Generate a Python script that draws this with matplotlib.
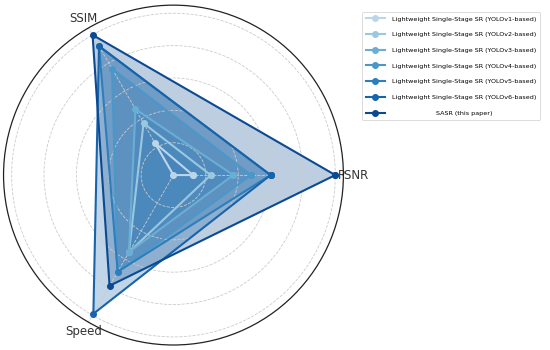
import numpy as np
import matplotlib
matplotlib.use('Agg')
import matplotlib.pyplot as plt

# Axes of the radar chart (normalised scores)
metrics = ['PSNR', 'SSIM', 'Speed']

methods = [
    'Lightweight Single-Stage SR (YOLOv1-based)',
    'Lightweight Single-Stage SR (YOLOv2-based)',
    'Lightweight Single-Stage SR (YOLOv3-based)',
    'Lightweight Single-Stage SR (YOLOv4-based)',
    'Lightweight Single-Stage SR (YOLOv5-based)',
    'Lightweight Single-Stage SR (YOLOv6-based)',
    'SASR (this paper)',
]

# values in order PSNR, SSIM, Speed
yolov1 = [0.12, 0.23, 0.00]
yolov2 = [0.23, 0.37, 0.55]
yolov3 = [0.37, 0.47, 0.55]
yolov4 = [0.48, 0.76, 0.69]
yolov5 = [0.60, 0.92, 0.69]
yolov6 = [0.60, 0.92, 0.99]
sasr = [1.00, 1.00, 0.79]
scores = [yolov1, yolov2, yolov3, yolov4, yolov5, yolov6, sasr]

colors = ['#bad6eb', '#9ac8e0', '#6aaed6', '#4a98c9', '#2e7ebc', '#1764ab', '#0b4a92']

angles = np.linspace(0, 2 * np.pi, len(metrics), endpoint=False)
angles_closed = np.append(angles, angles[0])

fig = plt.figure(figsize=(5.5, 3.5), dpi=100)
ax = fig.add_axes([0.0064, 0.0143, 0.618, 0.971], projection='polar')

# fills first, then outlines on top
for vals, c in zip(scores, colors):
    v = np.append(vals, vals[0])
    ax.fill(angles_closed, v, color=c, alpha=0.27, linewidth=0)

for vals, c, name in zip(scores, colors, methods):
    v = np.append(vals, vals[0])
    ax.plot(angles_closed, v, color=c, linewidth=1.5, marker='o',
            markersize=4, label=name)

ax.set_ylim(0, 1.05)
ax.set_yticks([0.2, 0.4, 0.6, 0.8, 1.0])
ax.set_yticklabels([])
ax.set_xticks(angles)
ax.set_xticklabels(metrics, fontsize=8.5, color='#333333')
ax.tick_params(axis='x', pad=-3)
ax.grid(True, color='#cccccc', linestyle='--', linewidth=0.6)
ax.spines['polar'].set_color('#222222')
ax.spines['polar'].set_linewidth(0.9)

leg = fig.legend(loc='upper right', bbox_to_anchor=(0.988, 0.974),
                 fontsize=4.6, handlelength=3.0, handletextpad=1.1,
                 labelspacing=1.6, borderpad=0.6, frameon=True,
                 edgecolor='#cccccc', fancybox=True)
leg.get_frame().set_linewidth(0.6)

# centre the last legend entry's text within the text column
fig.canvas.draw()
renderer = fig.canvas.get_renderer()
texts = leg.get_texts()
wmax = max(t.get_window_extent(renderer).width for t in texts)
wlast = texts[-1].get_window_extent(renderer).width
texts[-1].set_position(((wmax - wlast) / 2, 0))

fig.savefig('out.png', dpi=100)
